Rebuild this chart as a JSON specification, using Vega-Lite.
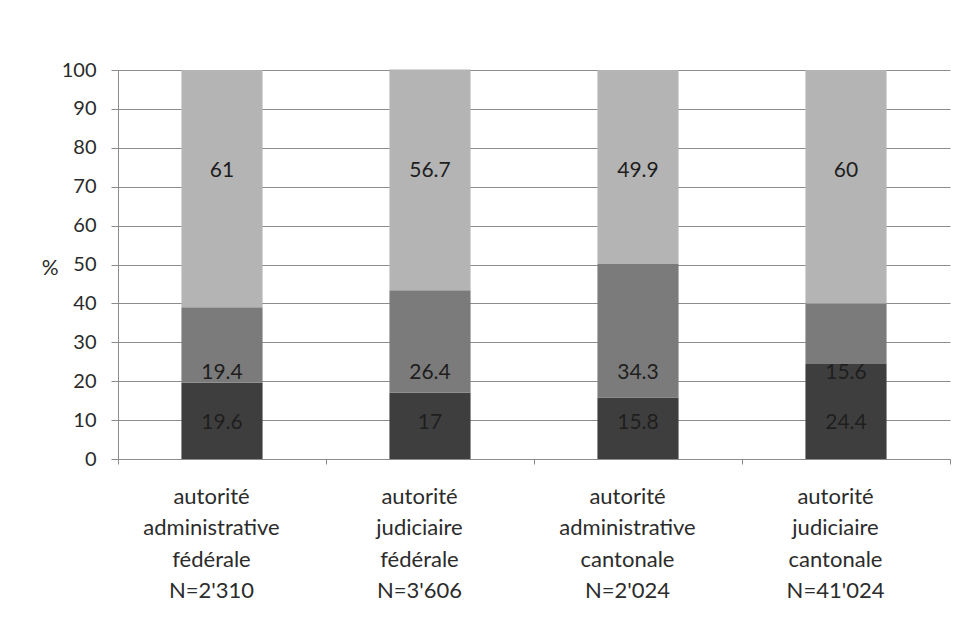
{
  "$schema": "https://vega.github.io/schema/vega-lite/v6.json",
  "width": 832,
  "height": 389,
  "autosize": {"type": "none"},
  "padding": {"left": 118, "top": 70, "right": 20, "bottom": 169},
  "background": "white",
  "data": {
    "values": [
      {"autorite": "autorité administrative fédérale N=2'310", "groupe": "A", "part": 19.6},
      {"autorite": "autorité administrative fédérale N=2'310", "groupe": "B", "part": 19.4},
      {"autorite": "autorité administrative fédérale N=2'310", "groupe": "C", "part": 61},
      {"autorite": "autorité judiciaire fédérale N=3'606", "groupe": "A", "part": 17},
      {"autorite": "autorité judiciaire fédérale N=3'606", "groupe": "B", "part": 26.4},
      {"autorite": "autorité judiciaire fédérale N=3'606", "groupe": "C", "part": 56.7},
      {"autorite": "autorité administrative cantonale N=2'024", "groupe": "A", "part": 15.8},
      {"autorite": "autorité administrative cantonale N=2'024", "groupe": "B", "part": 34.3},
      {"autorite": "autorité administrative cantonale N=2'024", "groupe": "C", "part": 49.9},
      {"autorite": "autorité judiciaire cantonale N=41'024", "groupe": "A", "part": 24.4},
      {"autorite": "autorité judiciaire cantonale N=41'024", "groupe": "B", "part": 15.6},
      {"autorite": "autorité judiciaire cantonale N=41'024", "groupe": "C", "part": 60}
    ]
  },
  "config": {
    "font": "Lato",
    "view": {"stroke": null},
    "axis": {
      "labelFont": "Lato",
      "titleFont": "Lato",
      "labelColor": "#2b2b2b",
      "titleColor": "#2b2b2b",
      "domainColor": "#8c8c8c",
      "tickColor": "#8c8c8c"
    }
  },
  "resolve": {"axis": {"y": "independent"}},
  "encoding": {
    "x": {
      "field": "autorite",
      "type": "nominal",
      "sort": null,
      "scale": {"paddingInner": 0, "paddingOuter": 0},
      "axis": {
        "title": null,
        "labelAngle": 0,
        "labelExpr": "split(datum.label, ' ')",
        "labelFontSize": 22,
        "labelLineHeight": 31.5,
        "labelPadding": 22,
        "labelOffset": -11,
        "labelBaseline": "top",
        "tickBand": "extent",
        "tickSize": 5,
        "domainColor": "#8c8c8c"
      }
    }
  },
  "layer": [
    {
      "mark": {"type": "bar", "width": {"band": 0.39}},
      "encoding": {
        "y": {
          "field": "part",
          "type": "quantitative",
          "stack": "zero",
          "scale": {"domain": [0, 100]},
          "axis": {
            "title": "%",
            "titleAngle": 0,
            "titleFontSize": 21,
            "titleFontWeight": "normal",
            "titleAlign": "right",
            "titleBaseline": "middle",
            "titleX": -60,
            "titleY": 198,
            "values": [0, 10, 20, 30, 40, 50, 60, 70, 80, 90, 100],
            "labelOverlap": false,
            "labelFontSize": 20,
            "labelPadding": 15,
            "tickSize": 7,
            "grid": true,
            "gridColor": "#8c8c8c",
            "gridWidth": 1
          }
        },
        "color": {
          "field": "groupe",
          "type": "nominal",
          "scale": {"domain": ["A", "B", "C"], "range": ["#3e3e3e", "#7b7b7b", "#b4b4b4"]},
          "legend": null
        },
        "order": {"field": "groupe", "sort": "ascending"}
      }
    },
    {
      "transform": [{"filter": "datum.groupe === 'A'"}],
      "mark": {"type": "text", "fontSize": 21, "color": "#1e1e1e", "baseline": "middle"},
      "encoding": {
        "y": {"datum": 9.3, "type": "quantitative", "axis": null},
        "text": {"field": "part", "type": "nominal"}
      }
    },
    {
      "transform": [{"filter": "datum.groupe === 'B'"}],
      "mark": {"type": "text", "fontSize": 21, "color": "#1e1e1e", "baseline": "middle"},
      "encoding": {
        "y": {"datum": 22, "type": "quantitative", "axis": null},
        "text": {"field": "part", "type": "nominal"}
      }
    },
    {
      "transform": [{"filter": "datum.groupe === 'C'"}],
      "mark": {"type": "text", "fontSize": 21, "color": "#1e1e1e", "baseline": "middle"},
      "encoding": {
        "y": {"datum": 74, "type": "quantitative", "axis": null},
        "text": {"field": "part", "type": "nominal"}
      }
    }
  ]
}
